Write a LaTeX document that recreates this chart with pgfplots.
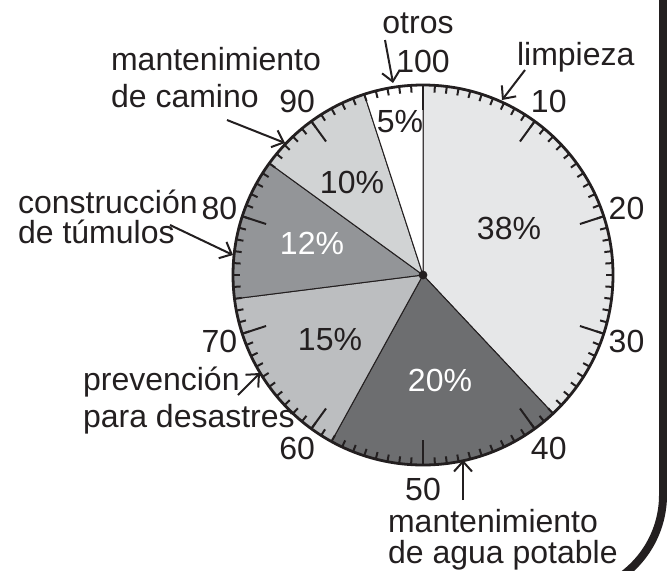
\documentclass[border=0pt]{standalone}
\usepackage{pgfplots}
\usepackage{pgfplotstable}
\pgfplotsset{compat=1.18}
\usepackage{fontspec}
\setmainfont{Liberation Sans}
\usetikzlibrary{arrows.meta}

\definecolor{txt}{HTML}{231F20}
\definecolor{sA}{HTML}{E6E7E8}
\definecolor{sB}{HTML}{6D6E70}
\definecolor{sC}{HTML}{BCBEC0}
\definecolor{sD}{HTML}{939598}
\definecolor{sE}{HTML}{D1D3D4}
\definecolor{sF}{HTML}{FFFFFF}

% share of each task (percent), slice colour, label colour, label position (px)
\pgfplotstableread[col sep=comma]{
pct,col,tcol,lx,ly
38,sA,txt,509,342
20,sB,white,440,190
15,sC,txt,330,230
12,sD,white,312,327
10,sE,txt,352,388
5,sF,txt,400,448
}\piedata

% cumulative start/end angles, clockwise from the top
\def\cum{0}
\pgfplotsforeachungrouped \i in {0,...,5}{%
  \pgfplotstablegetelem{\i}{pct}\of\piedata \let\p\pgfplotsretval
  \pgfmathsetmacro{\a}{90-3.6*\cum}
  \pgfmathsetmacro{\cum}{\cum+\p}
  \pgfmathsetmacro{\b}{90-3.6*\cum}
  \expandafter\xdef\csname sa\i\endcsname{\a}
  \expandafter\xdef\csname sb\i\endcsname{\b}
  \expandafter\xdef\csname pc\i\endcsname{\p}
  \pgfplotstablegetelem{\i}{col}\of\piedata \colorlet{slice\i}{\pgfplotsretval}
  \pgfplotstablegetelem{\i}{tcol}\of\piedata \colorlet{stxt\i}{\pgfplotsretval}
  \pgfplotstablegetelem{\i}{lx}\of\piedata \expandafter\xdef\csname lx\i\endcsname{\pgfplotsretval}
  \pgfplotstablegetelem{\i}{ly}\of\piedata \expandafter\xdef\csname ly\i\endcsname{\pgfplotsretval}
}

\begin{document}
\begin{tikzpicture}[font=\fontsize{16pt}{19pt}\selectfont, text=txt,
  arr/.style={line width=1pt, draw=txt, -{Straight Barb[length=5pt,width=9pt,line width=1pt]}}]
\begin{axis}[x=0.5pt, y=0.5pt, xmin=0, xmax=667, ymin=0, ymax=570,
  hide axis, clip=false]
\coordinate (bl) at (rel axis cs:0,0);
\coordinate (tr) at (rel axis cs:1,1);

% slices
\pgfplotsinvokeforeach{0,...,5}{
  \fill[fill=slice#1, draw=txt, line width=0.5pt] (axis cs:423,295) -- ++(\csname sa#1\endcsname:95pt)
    arc[start angle=\csname sa#1\endcsname, end angle=\csname sb#1\endcsname, radius=95pt] -- cycle;
  \node[text=stxt#1] at (axis cs:\csname lx#1\endcsname,\csname ly#1\endcsname) {\csname pc#1\endcsname\%};
}

% dial: minor and major ticks
\pgfplotsinvokeforeach{0,...,99}{
  \draw[line width=1pt, txt] (axis cs:423,295) ++(90-3.6*#1:95pt) -- ++(270-3.6*#1:3.6pt);
}
\pgfplotsinvokeforeach{0,10,...,90}{
  \draw[line width=1pt, txt] (axis cs:423,295) ++(90-3.6*#1:95pt) -- ++(270-3.6*#1:12.5pt);
}
\draw[line width=1.4pt, txt] (axis cs:423,295) circle[radius=95pt];
\fill[txt] (axis cs:423,295) circle[radius=2.2pt];

% dial numbers
\path (axis cs:423,295) ++(90:107pt) node {100};
\pgfplotsinvokeforeach{10,20,...,90}{
  \path (axis cs:423,295) ++(90-3.6*#1:107pt) node {#1};
}

% callouts
\node[anchor=base] at (axis cs:418,537) {otros};
\draw[arr] (axis cs:385,530) -- (axis cs:393,487);
\node[anchor=base west] at (axis cs:510,505) {limpieza};
\draw[arr] (axis cs:525,500) -- (axis cs:502,470);
\node[anchor=base west] at (axis cs:104,500) {mantenimiento};
\node[anchor=base west] at (axis cs:104,463) {de camino};
\draw[arr] (axis cs:227,450) -- (axis cs:285,427);
\node[anchor=base west] at (axis cs:11,357) {construcción};
\node[anchor=base west] at (axis cs:11,327) {de túmulos};
\draw[arr] (axis cs:170,345) -- (axis cs:233,315);
\node[anchor=base west] at (axis cs:76,180) {prevención};
\node[anchor=base west] at (axis cs:76,143) {para desastres};
\draw[arr] (axis cs:238,175) -- (axis cs:260,197);
\node[anchor=base west] at (axis cs:381,38) {mantenimiento};
\node[anchor=base west] at (axis cs:381,7) {de agua potable};
\draw[arr] (axis cs:463,70) -- (axis cs:463,110);

% page frame edge
\draw[line width=4pt, txt] (axis cs:663,590) -- (axis cs:663,75) arc[start angle=0, end angle=-60, radius=50pt];
\end{axis}
\pgfresetboundingbox
\useasboundingbox (bl) rectangle (tr);
\end{tikzpicture}
\end{document}
